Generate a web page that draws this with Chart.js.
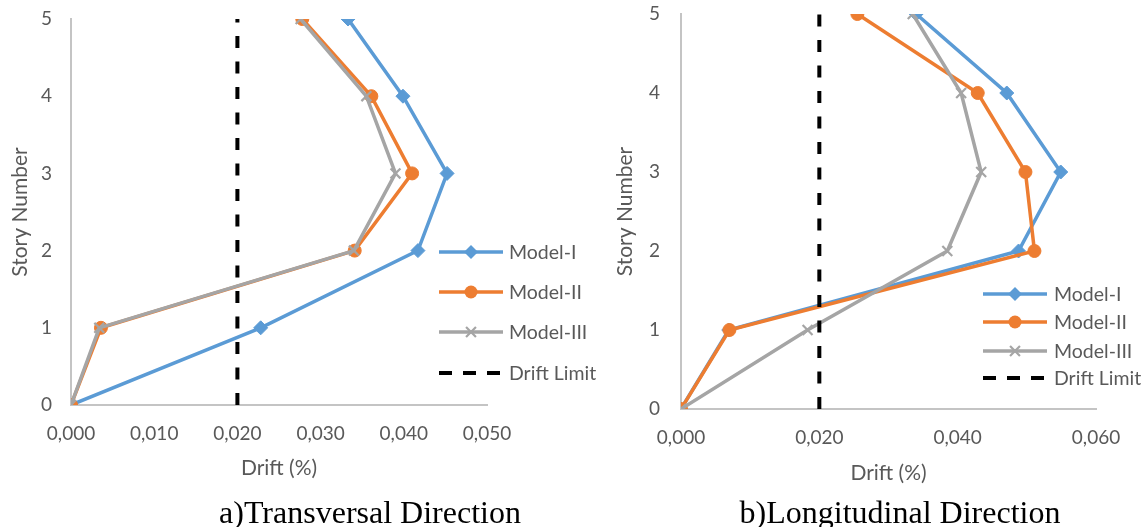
<!DOCTYPE html>
<html>
<head>
<meta charset="utf-8">
<script src="https://cdn.jsdelivr.net/npm/chart.js@4.4.0/dist/chart.umd.min.js"></script>
<style>
  html, body { margin: 0; padding: 0; background: #fff; }
  body { width: 1144px; height: 527px; position: relative; overflow: hidden; }
  #c1 { position: absolute; left: 0; top: 0; }
  #c2 { position: absolute; left: 0; top: 0; }
  .cap { position: absolute; font-family: "Liberation Serif", "Times New Roman", serif; font-size: 32px; line-height: 32px; color: #000; white-space: nowrap; transform: translateX(-50%); }
</style>
</head>
<body>
<div style="position:absolute;left:0;top:0;width:600px;height:527px"><canvas id="c1" width="600" height="527"></canvas></div>
<div style="position:absolute;left:600px;top:0;width:544px;height:527px"><canvas id="c2" width="544" height="527"></canvas></div>
<div class="cap" style="left:370px;top:496px">a)Transversal Direction</div>
<div class="cap" style="left:900px;top:496px">b)Longitudinal Direction</div>
<script>
// ---- data ----
const stories = [0, 1, 2, 3, 4, 5];
const seriesNames = ["Model-I", "Model-II", "Model-III", "Drift Limit"];
const transModelI   = [0, 0.0228, 0.0417, 0.0452, 0.0399, 0.0333];
const transModelII  = [0, 0.0036, 0.0341, 0.0410, 0.0361, 0.0278];
const transModelIII = [0, 0.0034, 0.0340, 0.0390, 0.0355, 0.0276];
const longModelI    = [0, 0.0069, 0.0488, 0.0549, 0.0471, 0.0340];
const longModelII   = [0, 0.0070, 0.0511, 0.0498, 0.0429, 0.0255];
const longModelIII  = [0, 0.0183, 0.0385, 0.0434, 0.0405, 0.0335];
const driftLimit = 0.020;
const storyTicks = [0, 1, 2, 3, 4, 5];
const transXTicks = [0, 0.010, 0.020, 0.030, 0.040, 0.050];
const longXTicks  = [0, 0.020, 0.040, 0.060];

const FONT = "Lato, 'Open Sans', sans-serif";
const TXT = "#595959";
const BLUE = "#5B9BD5", ORANGE = "#ED7D31", GRAY = "#A5A5A5";

function pts(xs) { return xs.map((x, i) => ({ x: x, y: stories[i] })); }
function fmt(v) { return v.toFixed(3).replace('.', ','); }

function makeDatasets(a, b, c) {
  return [
    { label: seriesNames[0], data: pts(a), borderColor: BLUE, backgroundColor: BLUE, borderWidth: 3.5,
      pointStyle: 'rectRot', pointRadius: 7, pointBorderWidth: 1, pointBackgroundColor: BLUE, pointBorderColor: BLUE, order: 4, showLine: true },
    { label: seriesNames[1], data: pts(b), borderColor: ORANGE, backgroundColor: ORANGE, borderWidth: 3.5,
      pointStyle: 'circle', pointRadius: 6.5, pointBorderWidth: 1, pointBackgroundColor: ORANGE, pointBorderColor: ORANGE, order: 3, showLine: true },
    { label: seriesNames[2], data: pts(c), borderColor: GRAY, backgroundColor: GRAY, borderWidth: 3.5,
      pointStyle: 'crossRot', pointRadius: 7, pointBorderWidth: 2.2, pointBorderColor: GRAY, order: 2, showLine: true },
    { label: seriesNames[3], data: [{ x: driftLimit, y: stories[0] }, { x: driftLimit, y: stories[stories.length - 1] }],
      borderColor: '#000', borderWidth: 4, borderDash: [12, 13.5], pointRadius: 0, order: 1, showLine: true }
  ];
}

function drawMarker(ctx, style, x, y, r, color, bw) {
  ctx.save();
  ctx.fillStyle = color; ctx.strokeStyle = color; ctx.lineWidth = bw; ctx.setLineDash([]);
  ctx.beginPath();
  if (style === 'rectRot') {
    ctx.moveTo(x, y - r); ctx.lineTo(x + r, y); ctx.lineTo(x, y + r); ctx.lineTo(x - r, y); ctx.closePath();
    ctx.fill();
  } else if (style === 'circle') {
    ctx.arc(x, y, r, 0, Math.PI * 2); ctx.fill();
  } else if (style === 'crossRot') {
    const d = r * Math.SQRT1_2;
    ctx.moveTo(x - d, y - d); ctx.lineTo(x + d, y + d);
    ctx.moveTo(x + d, y - d); ctx.lineTo(x - d, y + d);
    ctx.stroke();
  }
  ctx.restore();
}

const legendPlugin = {
  id: 'customLegend',
  afterDraw(chart) {
    const o = chart.options.plugins.customLegend;
    if (!o) return;
    const ctx = chart.ctx;
    chart.data.datasets.forEach((ds, i) => {
      const y = o.ys[i];
      ctx.save();
      ctx.strokeStyle = ds.borderColor;
      ctx.lineWidth = ds.borderWidth;
      ctx.setLineDash(ds.borderDash ? o.dash : []);
      ctx.beginPath(); ctx.moveTo(o.x0, y); ctx.lineTo(o.x1, y); ctx.stroke();
      ctx.restore();
      if (ds.pointRadius > 0) {
        drawMarker(ctx, ds.pointStyle, (o.x0 + o.x1) / 2, y, ds.pointRadius, ds.borderColor, ds.pointBorderWidth);
      }
      ctx.save();
      ctx.fillStyle = TXT;
      ctx.font = "19.5px " + FONT;
      ctx.textBaseline = 'middle';
      ctx.textAlign = 'left';
      ctx.fillText(ds.label, o.tx, y + 1);
      ctx.restore();
    });
  }
};

function makeChart(id, datasets, xmax, xTicks, L) {
  return new Chart(document.getElementById(id), {
    type: 'scatter',
    data: { datasets: datasets },
    plugins: [legendPlugin],
    options: {
      responsive: false,
      animation: false,
      layout: { padding: { left: 0, right: L.padRight, top: L.padTop, bottom: L.padBottom } },
      plugins: {
        legend: { display: false },
        tooltip: { enabled: false },
        customLegend: L.legend
      },
      scales: {
        x: {
          type: 'linear', min: 0, max: xmax,
          afterBuildTicks: s => { s.ticks = xTicks.map(v => ({ value: v })); },
          afterFit: s => { s.height = L.xH; },
          grid: { display: false, drawTicks: false },
          border: { display: true, color: '#C4C4C4', width: 2 },
          ticks: { color: TXT, font: { family: FONT, size: 19 }, padding: 17, maxRotation: 0, callback: v => fmt(v) },
          title: { display: true, text: 'Drift (%)', color: TXT, font: { family: FONT, size: 21 }, padding: { top: 0, bottom: 0 } }
        },
        y: {
          type: 'linear', min: 0, max: 5,
          afterBuildTicks: s => { s.ticks = storyTicks.map(v => ({ value: v })); },
          afterFit: s => { s.width = L.yW; s.paddingTop = 0; s.paddingBottom = 0; },
          grid: { display: false, drawTicks: false },
          border: { display: true, color: '#C4C4C4', width: 2 },
          ticks: { color: TXT, font: { family: FONT, size: 19 }, padding: L.yPad, callback: v => String(v) },
          title: { display: true, text: 'Story Number', color: TXT, font: { family: FONT, size: 21 }, padding: { top: L.yTitlePad, bottom: 0 } }
        }
      }
    }
  });
}

makeChart('c1', makeDatasets(transModelI, transModelII, transModelIII), 0.050, transXTicks, {
  padRight: 113, padTop: 19, padBottom: 46, xH: 76, yW: 71, yPad: 19, yTitlePad: 7.4,
  legend: { x0: 439, x1: 503, tx: 509, ys: [252, 292, 332, 373], dash: [13, 11] }
});
makeChart('c2', makeDatasets(longModelI, longModelII, longModelIII), 0.060, longXTicks, {
  padRight: 48, padTop: 14, padBottom: 41, xH: 77, yW: 81, yPad: 21, yTitlePad: 12.4,
  legend: { x0: 383, x1: 447, tx: 454, ys: [294, 322, 351, 378], dash: [13, 11] }
});
</script>
</body>
</html>
